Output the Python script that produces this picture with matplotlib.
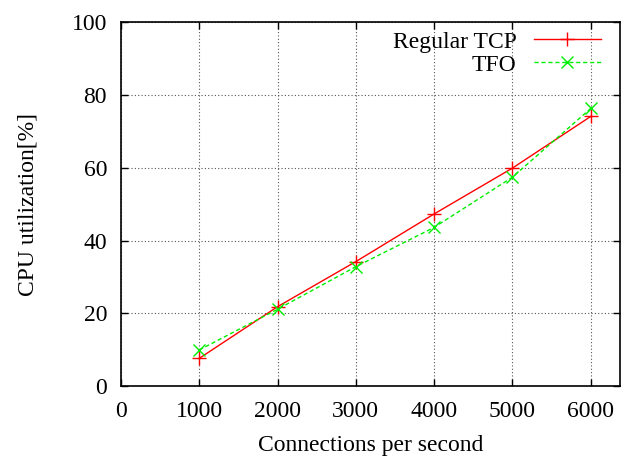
import matplotlib
matplotlib.use("Agg")
import matplotlib.pyplot as plt

plt.rcParams['font.family'] = ['Liberation Serif', 'DejaVu Serif']

connections = [1000, 2000, 3000, 4000, 5000, 6000]
regular_tcp = [7.6, 21.8, 34.2, 47.3, 59.9, 74.1]
tfo = [9.9, 21.1, 32.8, 43.6, 57.4, 76.3]
xticks = [0, 1000, 2000, 3000, 4000, 5000, 6000]
yticks = [0, 20, 40, 60, 80, 100]

FS = 17

fig = plt.figure(figsize=(6.21, 4.57), dpi=100)
ax = fig.add_axes([0.1948, 0.1554, 0.8036, 0.7958])

ax.plot(connections, regular_tcp, color='#ff0000', linestyle='-', linewidth=1.0,
        marker='+', markersize=10, markeredgewidth=1.0, label='Regular TCP')
ax.plot(connections, tfo, color='#00ee00', linestyle=(0, (3, 2)), linewidth=1.0,
        marker='x', markersize=8, markeredgewidth=1.0, label='TFO')

ax.set_xlim(0, 6375)
ax.set_ylim(0, 100)
ax.set_xticks(xticks)
ax.set_yticks(yticks)
ax.tick_params(direction='in', top=True, right=True, length=5, width=1,
               labelsize=FS)
ax.tick_params(axis='y', pad=10)
ax.tick_params(axis='x', pad=11)
ax.grid(True, color='#555555', linestyle=(0, (1, 2)), linewidth=0.8)
for s in ax.spines.values():
    s.set_linewidth(1.2)

ax.set_xlabel('Connections per second', fontsize=FS, labelpad=9.5)
ax.set_ylabel('CPU utilization[%]', fontsize=FS, labelpad=24)

leg = ax.legend(loc='upper right', frameon=False, markerfirst=False,
                fontsize=FS, handlelength=2.85, handletextpad=0.72,
                labelspacing=0.06, borderaxespad=0.3,
                bbox_to_anchor=(0.995, 1.021))
for t in leg.get_texts():
    t.set_ha('right')

fig.savefig('out.png', dpi=100)
